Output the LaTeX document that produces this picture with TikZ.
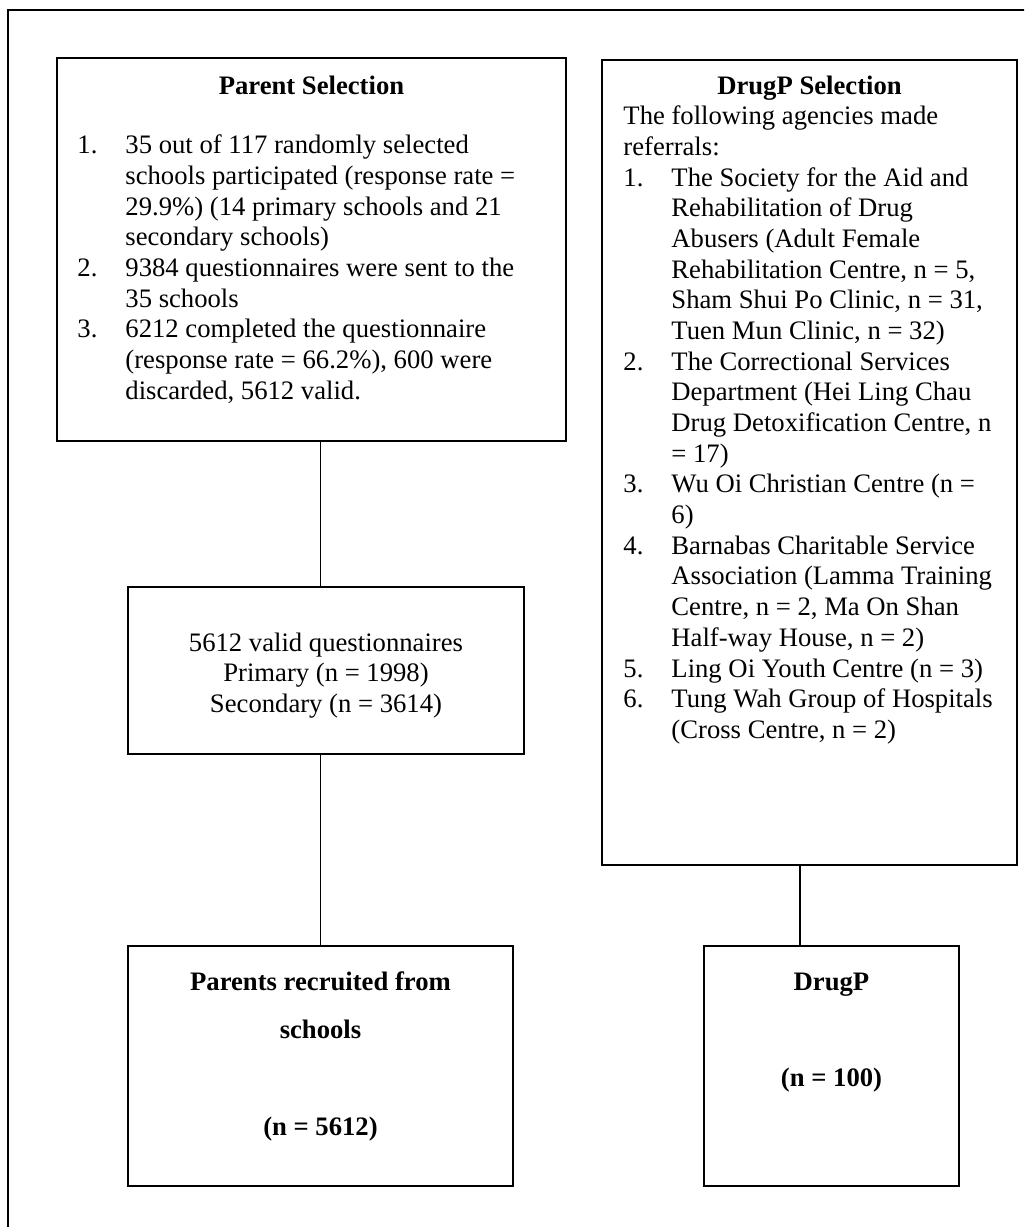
\documentclass[tikz,border=0pt]{standalone}
\usepackage{fontspec}
\setmainfont{Liberation Serif}
\usepackage{tikz}
\usetikzlibrary{calc}

\begin{document}
\begin{tikzpicture}
[x=0.45pt,y=-0.45pt,%
  frameDecorate/.style={draw,line width=0.9pt},%
  boxDecorate/.style={shape=rectangle,draw,line width=0.7pt,inner sep=0pt},%
  lineDecorate/.style={-,line width=0.7pt},%
  textDecorate/.style={inner sep=0pt,font={\fontsize{12}{13.8}\selectfont}},%
  resultDecorate/.style={inner sep=0pt,font={\fontsize{12}{21.8}\selectfont\bfseries}}]
\useasboundingbox (0,0) rectangle (1024,1227);
\clip (0,0) rectangle (1024,1227);
%% outer frame, cut off at right and bottom
\draw[frameDecorate] (8,10) rectangle (1080,1280);
%% boxes
\foreach \nodename/\x/\y/\w/\h in {
  parsel/311.5/249.5/509/383, drugsel/809.5/462.5/415/805,
  valid/326/670.5/396/167, recruit/320.5/1066/385/240,
  drugp/831.5/1066/255/240}
{
  \node (\nodename) at (\x,\y) [boxDecorate,minimum width=\w*0.45pt,minimum height=\h*0.45pt] {};
}
%% texts
\node (parhead) at (311.5,95) [textDecorate,anchor=base] {\bfseries Parent Selection};
\node (parlist) at (77,154) [textDecorate,anchor=base west] {%
  \begin{tabular}[t]{@{}p{21.6pt}@{}l@{}}
  1. & 35 out of 117 randomly selected\\
     & schools participated (response rate =\\
     & 29.9\%) (14 primary schools and 21\\
     & secondary schools)\\
  2. & 9384 questionnaires were sent to the\\
     & 35 schools\\
  3. & 6212 completed the questionnaire\\
     & (response rate = 66.2\%), 600 were\\
     & discarded, 5612 valid.
  \end{tabular}};
\node (drughead) at (809.5,95) [textDecorate,anchor=base] {\bfseries DrugP Selection};
\node (druglist) at (623,125) [textDecorate,anchor=base west] {%
  \begin{tabular}[t]{@{}p{21.6pt}@{}l@{}}
  \multicolumn{2}{@{}l@{}}{The following agencies made}\\
  \multicolumn{2}{@{}l@{}}{referrals:}\\
  1. & The Society for the Aid and\\
     & Rehabilitation of Drug\\
     & Abusers (Adult Female\\
     & Rehabilitation Centre, n = 5,\\
     & Sham Shui Po Clinic, n = 31,\\
     & Tuen Mun Clinic, n = 32)\\
  2. & The Correctional Services\\
     & Department (Hei Ling Chau\\
     & Drug Detoxification Centre, n\\
     & = 17)\\
  3. & Wu Oi Christian Centre (n =\\
     & 6)\\
  4. & Barnabas Charitable Service\\
     & Association (Lamma Training\\
     & Centre, n = 2, Ma On Shan\\
     & Half-way House, n = 2)\\
  5. & Ling Oi Youth Centre (n = 3)\\
  6. & Tung Wah Group of Hospitals\\
     & (Cross Centre, n = 2)
  \end{tabular}};
\node (validtext) at (326,651) [textDecorate,anchor=base] {%
  \begin{tabular}[t]{@{}c@{}}
  5612 valid questionnaires\\
  Primary (n = 1998)\\
  Secondary (n = 3614)
  \end{tabular}};
\node (recruittext) at (320.5,990) [resultDecorate,anchor=base] {%
  \begin{tabular}[t]{@{}c@{}}
  Parents recruited from\\
  schools\\
  \\
  (n = 5612)
  \end{tabular}};
\node (drugptext) at (831.5,990) [resultDecorate,anchor=base] {%
  \begin{tabular}[t]{@{}c@{}}
  DrugP\\
  \\
  (n = 100)
  \end{tabular}};
%% lines
\path
\foreach \startpt/\endpt in {parsel.south -| recruit.north/valid.north -| recruit.north,
  valid.south -| recruit.north/recruit.north}
{
  (\startpt) edge[lineDecorate] (\endpt)
};
\draw[lineDecorate] ($(drugsel.south)+(-9.5,0)$) -- ($(drugsel.south |- drugp.north)+(-9.5,0)$);
\end{tikzpicture}
\end{document}
